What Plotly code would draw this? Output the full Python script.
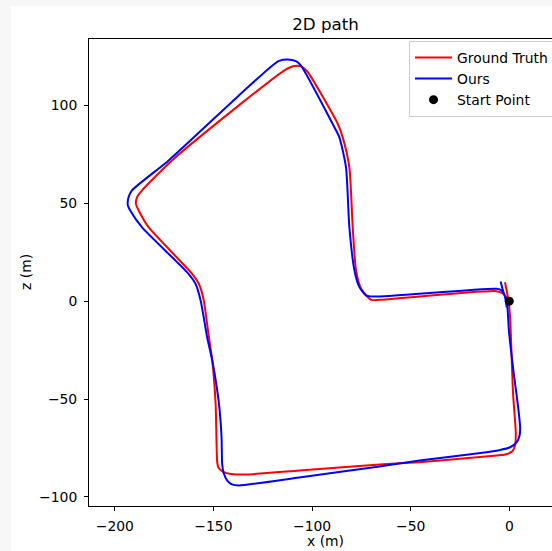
import plotly.graph_objects as go

# Ground truth path (x, z in metres)
gt_x = [-2.2, -0.4, 0.4, 1.9, 3.3, 2.9, 1.4, -2.2, -6.4, -45.5, -65.8, -106.5, -133.6, -141.1, -145.2,
        -147.5, -148.1, -148.9, -150.6, -152.3, -153.6, -154.9, -157.4, -160.8, -182.9, -187.9, -189.3,
        -188.7, -186.3, -171.0, -137.1, -114.2, -109.1, -105.5, -102.4, -87.0, -84.5, -81.1, -79.4,
        -77.7, -75.1, -70.0, -65.8, -6.4, -3.1, -1.2, 0.1]
gt_z = [9.7, 0.4, -8.2, -47.1, -67.6, -73.7, -76.8, -78.3, -78.8, -82.2, -83.4, -86.5, -88.5, -88.3, -87.0,
        -84.9, -82.2, -52.4, -30.3, -18.4, -8.8, 0.4, 8.9, 14.0, 37.8, 46.3, 49.7,
        53.2, 56.5, 71.9, 100.0, 117.8, 120.1, 119.9, 117.3, 90.6, 83.8, 68.4, 37.8,
        15.7, 6.3, 0.7, 0.7, 5.1, 3.8, 1.4, -2.7]

# Estimated path ("Ours")
ours_x = [-4.4, -3.2, -1.9, -1.0, -0.2, 2.4, 4.4, 5.5, 5.2, 3.8, 0.4, -4.7, -11.5, -45.5, -65.8, -106.5,
          -137.1, -140.6, -143.0, -144.9, -145.6, -145.9, -147.2, -150.6, -153.2, -155.1, -156.5, -159.1,
          -163.4, -186.3, -192.2, -193.4, -193.1, -191.4, -172.7, -137.1, -120.1, -116.7, -112.5, -108.2,
          -105.7, -89.6, -86.2, -82.8, -81.1, -78.5, -76.0, -72.6, -65.8, -6.4, -3.9, -2.4, -1.3]
ours_z = [10.1, 5.5, 1.4, -2.7, -15.0, -38.0, -53.3, -64.5, -68.6, -72.0, -74.6, -76.0, -77.1, -81.4, -84.4, -90.0,
          -94.1, -93.6, -91.6, -87.5, -83.0, -69.5, -52.4, -30.3, -18.4, -7.3, 0.4, 8.9,
          14.8, 37.8, 46.3, 48.9, 53.0, 56.5, 71.9, 105.1, 120.4, 122.7, 123.4, 122.6,
          120.4, 90.6, 83.8, 68.4, 37.8, 15.7, 7.2, 2.9, 2.4, 6.3, 5.5, 2.9, -3.1]

start_x = [0.0]
start_z = [0.0]

x_tickvals = [-200, -150, -100, -50, 0]
x_ticktext = ["\u2212200", "\u2212150", "\u2212100", "\u221250", "0"]
y_tickvals = [-100, -50, 0, 50, 100]
y_ticktext = ["\u2212100", "\u221250", "0", "50", "100"]

FONT = "DejaVu Sans"
W, H = 552, 551
ML, MT, MB, MR = 89, 39, 45, 0
PW = W - ML - MR
PH = H - MT - MB

fig = go.Figure()
fig.add_trace(go.Scatter(x=gt_x, y=gt_z, mode="lines", name="Ground Truth",
                         line=dict(color="#ff0000", width=2, shape="spline", smoothing=0.6)))
fig.add_trace(go.Scatter(x=ours_x, y=ours_z, mode="lines", name="Ours",
                         line=dict(color="#0000ff", width=2, shape="spline", smoothing=0.6)))
fig.add_trace(go.Scatter(x=start_x, y=start_z, mode="markers", name="Start Point",
                         marker=dict(color="black", size=9)))

axis_common = dict(showgrid=False, zeroline=False, showline=True, linecolor="black", linewidth=1,
                   ticks="outside", ticklen=4, tickwidth=1, tickcolor="black",
                   tickfont=dict(family=FONT, size=13.9, color="black"))

fig.update_layout(
    width=W, height=H,
    margin=dict(l=ML, r=MR, t=MT, b=MB, pad=0, autoexpand=False),
    paper_bgcolor="#f7f7f7", plot_bgcolor="white",
    font=dict(family=FONT, size=13.9, color="black"),
    title=dict(text="2D path", x=(325.5 - ML) / PW, xref="paper", xanchor="center",
               y=1 - 24 / H, yref="container", yanchor="middle",
               font=dict(family=FONT, size=16.7, color="black")),
    xaxis=dict(range=[-213.1, 21.65], tickvals=x_tickvals, ticktext=x_ticktext, mirror=True,
               ticklabelstandoff=3, **axis_common),
    yaxis=dict(range=[-104.6, 133.9], tickvals=y_tickvals, ticktext=y_ticktext,
               ticklabelstandoff=4, **axis_common),
    showlegend=True,
    legend=dict(x=(409 - ML) / PW, y=1 - (41 - MT) / PH, xanchor="left", yanchor="top",
                bgcolor="white", bordercolor="#cccccc", borderwidth=1, itemwidth=37,
                font=dict(family=FONT, size=13.9, color="black")),
    shapes=[dict(type="rect", xref="paper", yref="paper", layer="below",
                 x0=(11 - ML) / PW, x1=1.05, y0=-0.2, y1=1 + (MT - 6) / PH,
                 fillcolor="white", line=dict(width=0))],
    annotations=[
        dict(text="x (m)", xref="paper", yref="paper", x=(325 - ML) / PW, y=(MT + PH - 541) / PH,
             xanchor="center", yanchor="middle", showarrow=False, font=dict(family=FONT, size=13.9)),
        dict(text="z (m)", xref="paper", yref="paper", x=(25.5 - ML) / PW, y=(MT + PH - 272.5) / PH,
             xanchor="center", yanchor="middle", textangle=-90, showarrow=False,
             font=dict(family=FONT, size=13.9)),
    ],
)

fig.write_html("out.html", config={"displayModeBar": False},
               post_script="document.body.style.margin='0';document.body.style.overflow='hidden';")
